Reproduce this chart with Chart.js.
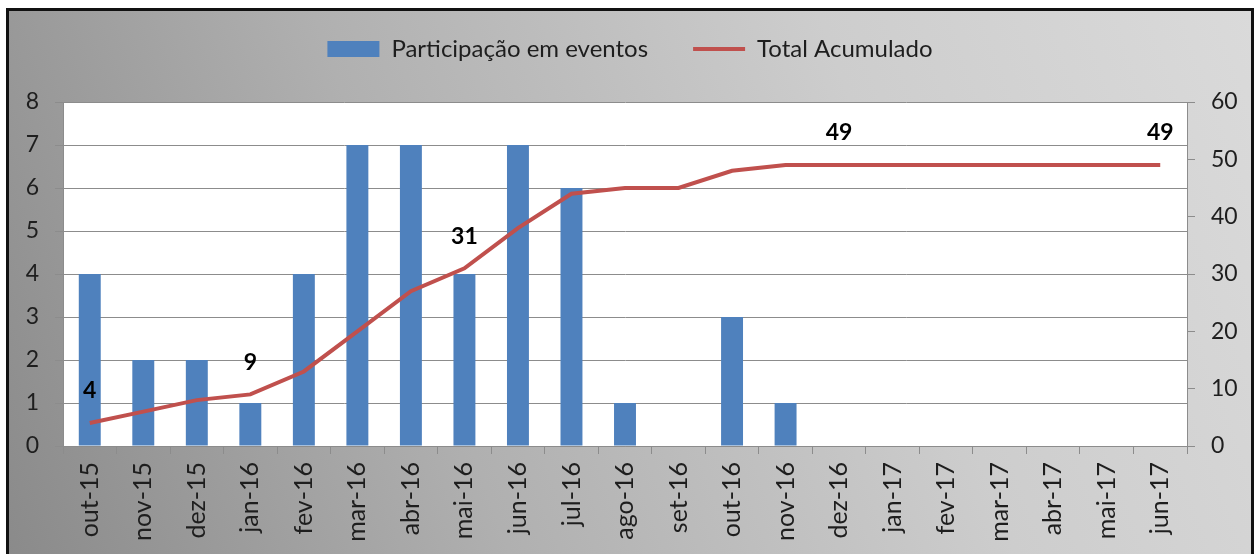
<!DOCTYPE html>
<html>
<head>
<meta charset="utf-8">
<script src="https://cdn.jsdelivr.net/npm/chart.js@4"></script>
<style>
  body { margin: 0; background: #fff; }
  #frame {
    position: absolute;
    left: 6px; top: 8px;
    width: 1242px; height: 552px;
    border: 3px solid #111;
    border-bottom: none;
    background: linear-gradient(70deg, #8a8a8a 0%, #b0b0b0 35%, #cdcdcd 70%, #dadada 100%);
  }
  #chart { display: block; }
</style>
</head>
<body>
<div id="frame">
  <canvas id="chart" width="1242" height="552"></canvas>
</div>
<script>
// Months on the x axis
const months = ["out-15", "nov-15", "dez-15", "jan-16", "fev-16", "mar-16", "abr-16", "mai-16",
    "jun-16", "jul-16", "ago-16", "set-16", "out-16", "nov-16", "dez-16", "jan-17", "fev-17",
    "mar-17", "abr-17", "mai-17", "jun-17"];

// Events per month (bars, left axis)
const events = [4, 2, 2, 1, 4, 7, 7, 4, 7, 6, 1, 0, 3, 1, 0, 0, 0, 0, 0, 0, 0];

// Running total (line, right axis)
const total = [4, 6, 8, 9, 13, 20, 27, 31, 38, 44, 45, 45, 48, 49, 49, 49, 49, 49, 49, 49, 49];

// Points of the line that carry a value label
const labelled = [0, 3, 7, 14, 20];

Chart.defaults.font.family = 'Lato, "Open Sans", sans-serif';
Chart.defaults.color = '#1e1e1e';

// White plot area
const plotBackground = {
    id: 'plotBackground',
    beforeDraw(chart) {
        const a = chart.chartArea;
        chart.ctx.save();
        chart.ctx.fillStyle = '#ffffff';
        chart.ctx.fillRect(a.left, a.top, a.right - a.left, a.bottom - a.top);
        chart.ctx.restore();
    }
};

// Extra room under the legend
const legendGap = {
    id: 'legendGap',
    beforeLayout(chart) {
        const lg = chart.legend;
        if (lg && !lg._gapPatched) {
            const fit = lg.fit;
            lg.fit = function () {
                fit.call(this);
                this.height += 31;
            };
            lg._gapPatched = true;
        }
    }
};

// Bold value labels above a few points of the line
const pointLabels = {
    id: 'pointLabels',
    afterDatasetsDraw(chart) {
        const meta = chart.getDatasetMeta(1);
        const ctx = chart.ctx;
        ctx.save();
        ctx.font = 'bold 23px Lato, sans-serif';
        ctx.fillStyle = '#000';
        ctx.textAlign = 'center';
        ctx.textBaseline = 'middle';
        labelled.forEach(function (i) {
            const p = meta.data[i];
            ctx.fillText(String(total[i]), p.x, p.y - 32);
        });
        ctx.restore();
    }
};

const lineGray = '#8c8c8c';

new Chart(document.getElementById('chart'), {
    type: 'bar',
    data: {
        labels: months,
        datasets: [
            {
                label: 'Participação em eventos',
                data: events,
                backgroundColor: '#4f81bd',
                categoryPercentage: 1,
                barPercentage: 0.41,
                yAxisID: 'y',
                order: 2
            }, {
                type: 'line',
                label: 'Total Acumulado',
                data: total,
                borderColor: '#c0504d',
                backgroundColor: '#c0504d',
                borderWidth: 4,
                pointRadius: 0,
                tension: 0,
                yAxisID: 'y1',
                order: 1
            }]
    },
    options: {
        responsive: false,
        animation: false,
        layout: { padding: { top: -19, left: 0, right: 0, bottom: 0 } },
        plugins: {
            tooltip: { enabled: false },
            legend: {
                position: 'top',
                labels: {
                    font: { size: 24 },
                    color: '#1e1e1e',
                    usePointStyle: true,
                    pointStyleWidth: 52,
                    boxHeight: 16,
                    padding: 45,
                    sort: (a, b) => a.datasetIndex - b.datasetIndex,
                    generateLabels(chart) {
                        const items = Chart.defaults.plugins.legend.labels.generateLabels(chart);
                        items.forEach(function (it) {
                            if (it.datasetIndex === 0) {
                                it.pointStyle = 'rect';
                                it.lineWidth = 0;
                            } else {
                                it.pointStyle = 'line';
                                it.lineWidth = 4;
                            }
                        });
                        return items;
                    }
                }
            }
        },
        scales: {
            x: {
                grid: {
                    offset: true,
                    drawOnChartArea: false,
                    color: lineGray,
                    tickLength: 8
                },
                border: { color: lineGray },
                ticks: {
                    font: { size: 25 },
                    maxRotation: 90,
                    minRotation: 90,
                    padding: 8,
                    autoSkip: false
                },
                afterFit(s) { s.height = 117; }
            },
            y: {
                position: 'left',
                min: 0,
                max: 8,
                ticks: { stepSize: 1, font: { size: 23 }, padding: 16 },
                grid: { color: lineGray, tickLength: 8 },
                border: { color: lineGray },
                afterFit(s) { s.width = 54; }
            },
            y1: {
                position: 'right',
                min: 0,
                max: 60,
                ticks: { stepSize: 10, font: { size: 23 }, padding: 16 },
                grid: { drawOnChartArea: false, color: lineGray, tickLength: 8 },
                border: { color: lineGray },
                afterFit(s) { s.width = 64; }
            }
        }
    },
    plugins: [plotBackground, legendGap, pointLabels]
});
</script>
</body>
</html>
